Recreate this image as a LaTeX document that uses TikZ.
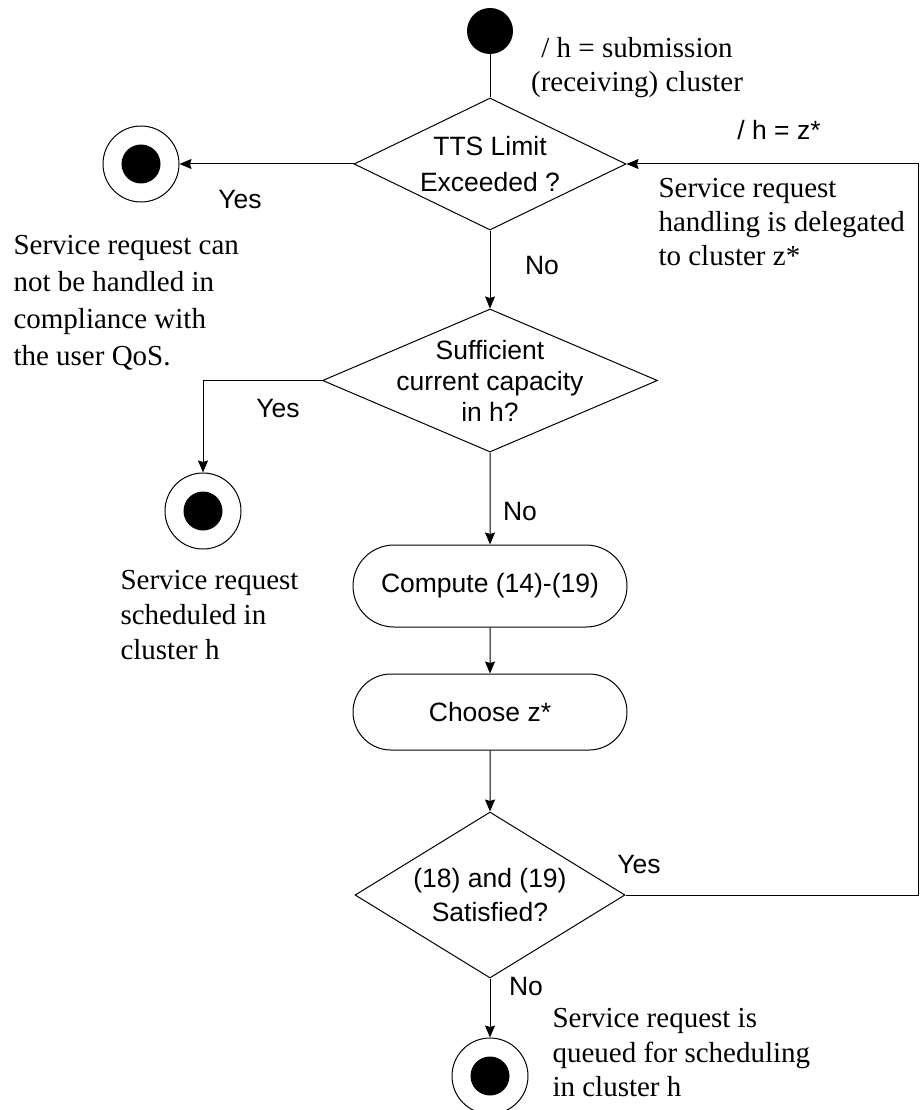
\documentclass[tikz,border=0pt]{standalone}
\usepackage{fontspec}
\setmainfont{Liberation Serif}
\setsansfont{Liberation Sans}
\usetikzlibrary{positioning,shapes.geometric,shapes.misc,arrows.meta}

\begin{document}
\begin{tikzpicture}[x=1pt, y=-1pt, line width=1pt,
  decision/.style={diamond, draw, inner sep=0pt},
  action/.style={rounded rectangle, draw, inner sep=0pt, minimum width=274pt, font=\sffamily\fontsize{26.5}{33}\selectfont},
  initial/.style={circle, fill, minimum size=46pt, inner sep=0pt},
  final/.style={circle, draw, minimum size=76pt, inner sep=0pt, path picture={\fill (path picture bounding box.center) circle (19.5pt);}},
  guard/.style={font=\sffamily\fontsize{26.5}{33}\selectfont, inner sep=0pt, align=center},
  note/.style={font=\fontsize{29}{34}\selectfont, inner sep=0pt, align=left},
  flow/.style={-{Stealth[length=12pt, width=10pt, inset=1.5pt]}}]
  \useasboundingbox (0,0) rectangle (920,1110);

  \node[initial] (start) at (490,31) {};
  \node[decision, minimum width=272pt, minimum height=132pt, below=43pt of start, label={[guard, font=\sffamily\fontsize{26.5}{36}\selectfont]center:TTS Limit\\Exceeded ?}] (tts) {};
  \node[decision, minimum width=335pt, minimum height=143pt, below=78pt of tts, label={[guard, font=\sffamily\fontsize{26.5}{31}\selectfont]center:Sufficient\\current capacity\\in h?}] (suff) {};
  \node[action, minimum height=82pt, below=92pt of suff] (comp) {Compute (14)-(19)};
  \node[action, minimum height=76pt, below=46pt of comp] (choose) {Choose z*};
  \node[decision, minimum width=270pt, minimum height=166pt, below=61pt of choose, label={[guard, font=\sffamily\fontsize{26.5}{34}\selectfont]center:(18) and (19)\\Satisfied?}] (sat) {};
  \node[final, below=59pt of sat] (e3) {};
  \node[final, left=174pt of tts] (e1) {};
  \node[final] (e2) at (203,511) {};
  \coordinate[right=292pt of tts.east] (back);

  \draw (start) -- (tts);
  \draw[flow] (tts) -- (e1);
  \draw[flow] (tts) -- (suff);
  \draw[flow] (suff.west) -| (e2);
  \draw[flow] (suff) -- (comp);
  \draw[flow] (comp) -- (choose);
  \draw[flow] (choose) -- (sat);
  \draw[flow] (sat) -- (e3);
  \draw[flow] (sat.east) -| (back) -- (tts.east);

  % guards
  \node[guard] (yes1) at (240,200) {Yes};
  \node[guard] (no1) at (542,266) {No};
  \node[guard] (yes2) at (278,409) {Yes};
  \node[guard] (no2) at (520,512) {No};
  \node[guard] (yes3) at (639,865) {Yes};
  \node[guard] (no3) at (526,987) {No};
  \node[guard] (deleg) at (779,130) {/ h = z*};

  % notes
  \node[note, align=center, anchor=north] (init) at (637,37) {/ h = submission\\(receiving) cluster};
  \node[note, anchor=north west] (delegnote) at (658,178) {Service request\\handling is delegated\\to cluster z*};
  \node[note, font=\fontsize{29}{37}\selectfont, anchor=north west] (failnote) at (13,235) {Service request can\\not be handled in\\compliance with\\the user QoS.};
  \node[note, font=\fontsize{29}{35}\selectfont, anchor=north west] (schednote) at (120,570) {Service request\\scheduled in\\cluster h};
  \node[note, font=\fontsize{29}{34.5}\selectfont, anchor=north west] (queuenote) at (552,1008) {Service request is\\queued for scheduling\\in cluster h};
\end{tikzpicture}
\end{document}
